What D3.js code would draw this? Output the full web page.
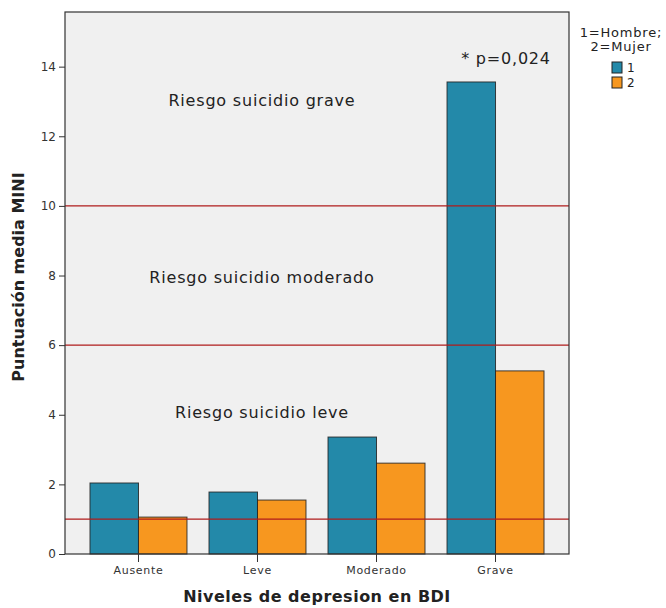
<!DOCTYPE html>
<html>
<head>
<meta charset="utf-8">
<script src="https://cdn.jsdelivr.net/npm/d3@7"></script>
<style>
  body { margin: 0; background: #fff; }
  text { font-family: "DejaVu Sans", sans-serif; fill: #222; }
</style>
</head>
<body>
<svg id="chart"></svg>
<script>
// Mean MINI score by BDI depression level and sex

const categories = ["Ausente", "Leve", "Moderado", "Grave"];
const groups = ["1", "2"];
const hombre = [2.04, 1.78, 3.36, 13.56];
const mujer = [1.06, 1.55, 2.61, 5.26];
const yTicks = [0, 2, 4, 6, 8, 10, 12, 14];
const refLines = [1, 6, 10];
const zoneLabels = [
  { text: "Riesgo suicidio grave", value: 13.0 },
  { text: "Riesgo suicidio moderado", value: 7.92 },
  { text: "Riesgo suicidio leve", value: 4.04 },
];

const width = 666;
const height = 608;
const margin = { top: 12, right: 97, bottom: 54, left: 65 };
const colors = { "1": "#2389a9", "2": "#f7971f" };

const svg = d3.select("#chart").attr("width", width).attr("height", height);

const x = d3
  .scaleBand()
  .domain(categories)
  .range([margin.left, width - margin.right])
  .paddingInner(0.185)
  .paddingOuter(0.21);

const xSub = d3.scaleBand().domain(groups).range([0, x.bandwidth()]);

const y = d3
  .scaleLinear()
  .domain([0, 15.57])
  .range([height - margin.bottom, margin.top]);

// plot background
svg
  .append("rect")
  .attr("x", margin.left)
  .attr("y", margin.top)
  .attr("width", width - margin.left - margin.right)
  .attr("height", height - margin.top - margin.bottom)
  .attr("fill", "#f0f0f0");

// bars
const rows = categories.map((c, i) => ({ cat: c, vals: [hombre[i], mujer[i]] }));
const barG = svg
  .append("g")
  .selectAll("g")
  .data(rows)
  .join("g")
  .attr("transform", (d) => `translate(${x(d.cat)},0)`);

barG
  .selectAll("rect")
  .data((d) => d.vals.map((v, j) => ({ g: groups[j], v })))
  .join("rect")
  .attr("x", (d) => xSub(d.g))
  .attr("y", (d) => y(d.v))
  .attr("width", xSub.bandwidth())
  .attr("height", (d) => y(0) - y(d.v))
  .attr("fill", (d) => colors[d.g])
  .attr("stroke", "#222")
  .attr("stroke-opacity", 0.85)
  .attr("stroke-width", 1);

// reference lines
svg
  .append("g")
  .selectAll("line")
  .data(refLines)
  .join("line")
  .attr("x1", margin.left)
  .attr("x2", width - margin.right)
  .attr("y1", (d) => y(d))
  .attr("y2", (d) => y(d))
  .attr("stroke", "#b01c1c")
  .attr("stroke-width", 1.3);

// zone labels
svg
  .append("g")
  .selectAll("text")
  .data(zoneLabels)
  .join("text")
  .attr("x", 262)
  .attr("y", (d) => y(d.value))
  .attr("text-anchor", "middle")
  .attr("dominant-baseline", "middle")
  .style("font-size", "16px")
  .style("letter-spacing", "0.8px")
  .text((d) => d.text);

svg
  .append("text")
  .attr("x", 506)
  .attr("y", 64)
  .attr("text-anchor", "middle")
  .style("font-size", "16px")
  .style("letter-spacing", "0.8px")
  .text("* p=0,024");

// frame
svg
  .append("rect")
  .attr("x", margin.left)
  .attr("y", margin.top)
  .attr("width", width - margin.left - margin.right)
  .attr("height", height - margin.top - margin.bottom)
  .attr("fill", "none")
  .attr("stroke", "#333")
  .attr("stroke-width", 1.2);

// axes
const yAxis = svg
  .append("g")
  .attr("transform", `translate(${margin.left},0)`)
  .call(d3.axisLeft(y).tickValues(yTicks).tickSize(6).tickPadding(3));
yAxis.select(".domain").remove();
yAxis.selectAll("line").attr("stroke", "#333");
yAxis.selectAll("text").style("font-size", "12px").style("fill", "#333");

const xAxis = svg
  .append("g")
  .attr("transform", `translate(0,${height - margin.bottom})`)
  .call(d3.axisBottom(x).tickSize(8).tickPadding(4));
xAxis.select(".domain").remove();
xAxis.selectAll("line").attr("stroke", "#333");
xAxis
  .selectAll("text")
  .style("font-size", "11px")
  .style("letter-spacing", "0.7px")
  .style("fill", "#333");

// axis titles
svg
  .append("text")
  .attr("transform", `translate(24,${(margin.top + height - margin.bottom) / 2 - 6}) rotate(-90)`)
  .attr("text-anchor", "middle")
  .style("font-size", "16px")
  .style("font-weight", "bold")
  .text("Puntuación media MINI");

svg
  .append("text")
  .attr("x", (margin.left + width - margin.right) / 2)
  .attr("y", 602)
  .attr("text-anchor", "middle")
  .style("font-size", "16px")
  .style("font-weight", "bold")
  .style("letter-spacing", "0.5px")
  .text("Niveles de depresion en BDI");

// legend
const legend = svg.append("g");
legend
  .append("text")
  .attr("x", 621)
  .attr("y", 37)
  .attr("text-anchor", "middle")
  .style("font-size", "13px")
  .style("letter-spacing", "0.8px")
  .text("1=Hombre;");
legend
  .append("text")
  .attr("x", 621)
  .attr("y", 51)
  .attr("text-anchor", "middle")
  .style("font-size", "13px")
  .style("letter-spacing", "0.8px")
  .text("2=Mujer");

const items = legend
  .selectAll("g.item")
  .data(groups)
  .join("g")
  .attr("class", "item")
  .attr("transform", (d, i) => `translate(612,${62 + i * 15})`);
items
  .append("rect")
  .attr("width", 10)
  .attr("height", 11)
  .attr("fill", (d) => colors[d])
  .attr("stroke", "#222");
items
  .append("text")
  .attr("x", 15)
  .attr("y", 10)
  .style("font-size", "12px")
  .text((d) => d);
</script>
</body>
</html>
